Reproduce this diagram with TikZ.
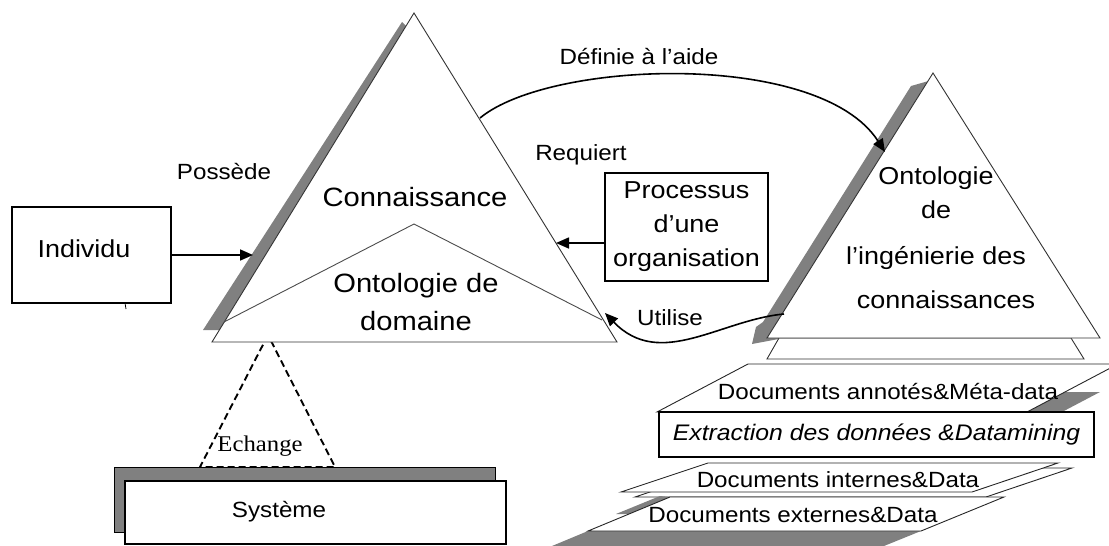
\documentclass[tikz,border=0pt]{standalone}
\usepackage{fontspec}
\setmainfont{Liberation Sans}[FakeStretch=1.1]
\newfontfamily\echfont{Liberation Serif}[FakeStretch=1.1]
\usetikzlibrary{arrows.meta}

\begin{document}
\begin{tikzpicture}[x=1pt,y=-1pt,>={Triangle[length=13pt,width=11pt]},line join=miter]
\tikzstyle{tri} = [draw=black!80, line width=0.9pt, fill=white]
\tikzstyle{feuille} = [draw=black!85, line width=0.9pt, fill=white]
\tikzstyle{box} = [draw, line width=1.2pt, fill=white, inner sep=0pt]
\tikzstyle{ombre} = [fill=black!50]
\tikzstyle{arrow} = [->, line width=1.6pt]
\tikzstyle{lbl} = [font=\fontsize{22}{26}\selectfont]
\tikzstyle{big} = [font=\fontsize{26.5}{38}\selectfont, align=center]
\tikzstyle{mid} = [font=\fontsize{24.5}{34}\selectfont, align=center]
\tikzstyle{doc} = [font=\fontsize{22}{26}\selectfont]

\useasboundingbox (0,0) rectangle (1109,546);

\draw[ombre] (114,467) rectangle (495,532);
\node (sys) at (315.5,512.5) [box, minimum width=381, minimum height=63] {};
\node (systxt) at (279,512) [doc] {Système};
\draw[line width=1.9pt, dash pattern=on 7pt off 4pt] (268,335) -- (200,467) -- (335,467) -- cycle;
\node (ech) at (260,446) [font=\fontsize{22.5}{26}\echfont] {Echange};

\fill[ombre] (402,22) -- (420,40) -- (260,330) -- (203,330) -- cycle;
\coordinate (kA) at (414,13);
\coordinate (kL) at (212,342);
\coordinate (kR) at (617,342);
\draw[tri] (kA) -- (kL) -- (kR) -- cycle;
\draw[draw=black!70, line width=0.9pt] (224,322) -- (414,224) -- (602,320);
\node (conn) at (415,197) [big] {Connaissance};
\node (onto) at (416,302) [big] {Ontologie de\\domaine};

\node (indiv) at (91.5,255) [box, minimum width=159, minimum height=96] {};
\node (indtxt) at (84,249) [mid] {Individu};
\draw[line width=0.8pt] (125,303) -- (126,309);
\coordinate (possK) at (253,255);
\draw[arrow] (indiv) -- (possK);
\node (poss) at (224,172) [lbl] {Possède};

\node (proc) at (686.5,227) [box, minimum width=163, minimum height=108, mid] {Processus\\d’une\\organisation};
\coordinate (reqK) at (556,243);
\draw[arrow] (proc.west |- reqK) -- (reqK);
\node (req) at (581,155) [lbl] {Requiert};

\fill[ombre] (911,86) -- (932,80) -- (800,335) -- (752,344) -- (756,327) -- (763,322) -- cycle;
\draw[tri] (779,338) -- (1071,338) -- (1084,359) -- (767,359) -- cycle;
\coordinate (oA) at (933,73);
\coordinate (oL) at (767,338);
\coordinate (oR) at (1100,338);
\draw[tri] (oA) -- (oL) -- (oR) -- cycle;
\node (oic) at (936,238) [mid] {Ontologie\\de\\[12pt]l’ingénierie des\\[10pt]\hspace*{20pt}connaissances};

\coordinate (defK) at (480,118);
\coordinate (defO) at (885,152);
\draw[arrow] (defK) .. controls (550,60) and (820,50) .. (defO);
\node (def) at (639,57) [lbl] {Définie à l’aide};

\coordinate (utO) at (784,314);
\coordinate (utK) at (605,313);
\draw[arrow] (utO) .. controls (720,320) and (660,370) .. (utK);
\node (util) at (670,318) [lbl] {Utilise};

\fill[ombre] (1027,412) -- (1065,392) -- (1100,392) -- (1062,412) -- cycle;
\draw[feuille] (748,364) -- (1118,364) -- (1027,412) -- (657,412) -- cycle;
\node (annot) at (888,392) [doc] {Documents annotés\&Méta-data};
\node (extr) at (876.5,434.5) [box, minimum width=435, minimum height=45, font=\fontsize{22.5}{26}\selectfont\itshape] {Extraction des données \&Datamining};

\draw[feuille] (722,468) -- (1072,468) -- (986,497) -- (635,497) -- cycle;
\draw[feuille] (708,463) -- (1058,463) -- (972,492) -- (621,492) -- cycle;
\node (intern) at (838,480) [doc] {Documents internes\&Data};
\fill[ombre] (616,514) -- (660,496) -- (670,497) -- (629,514) -- cycle;
\fill[ombre] (588,531) -- (921,531) -- (884,546) -- (552,546) -- cycle;
\draw[feuille] (670,497) -- (1004,497) -- (921,531) -- (588,531) -- cycle;
\node (extern) at (793,515) [doc] {Documents externes\&Data};
\end{tikzpicture}
\end{document}
